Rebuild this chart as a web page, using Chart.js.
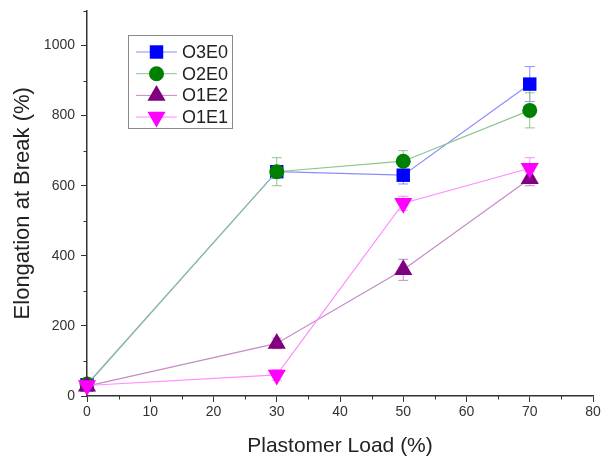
<!DOCTYPE html>
<html>
<head>
<meta charset="utf-8">
<script src="https://cdn.jsdelivr.net/npm/chart.js@4"></script>
<style>
  body { margin: 0; background: #fff; }
  canvas { display: block; }
</style>
</head>
<body>
<canvas id="myChart" width="612" height="463"></canvas>
<script>
// plastomer load on the x axis (%)
const loads = [0, 30, 50, 70];

// elongation at break (%) per blend
const o3e0 = [32, 640, 630, 890];
const o2e0 = [34, 640, 670, 815];
const o1e2 = [28, 150, 360, 620];
const o1e1 = [30, 60, 550, 650];

// standard deviations
const o3e0Err = [5, 10, 25, 50];
const o2e0Err = [5, 40, 30, 50];
const o1e2Err = [5, 15, 30, 20];
const o1e1Err = [5, 15, 20, 30];

const xTicks = [0, 10, 20, 30, 40, 50, 60, 70, 80];
const yTicks = [0, 200, 400, 600, 800, 1000];
const xMinor = [5, 15, 25, 35, 45, 55, 65, 75];
const yMinor = [100, 300, 500, 700, 900, 1100];

const toPoints = (vals) => vals.map((v, i) => ({ x: loads[i], y: v }));

const series = [
  { label: "O3E0", data: o3e0, err: o3e0Err, color: "#0000ff", line: "#8c8cff", style: "rect", radius: 9.5, rotation: 0 },
  { label: "O2E0", data: o2e0, err: o2e0Err, color: "#008000", line: "#8cc68c", style: "circle", radius: 7.5, rotation: 0 },
  { label: "O1E2", data: o1e2, err: o1e2Err, color: "#800080", line: "#c48cc4", style: "triangle", radius: 10.5, rotation: 0 },
  { label: "O1E1", data: o1e1, err: o1e1Err, color: "#ff00ff", line: "#ff8cff", style: "triangle", radius: 10.5, rotation: 180 },
];

// vertical error bars with caps, drawn under the markers
const errorBars = {
  id: "errorBars",
  beforeDatasetsDraw(chart) {
    const { ctx, scales: { x, y } } = chart;
    ctx.save();
    ctx.lineWidth = 1;
    series.forEach((s) => {
      ctx.strokeStyle = s.line;
      s.data.forEach((v, i) => {
        const px = x.getPixelForValue(loads[i]);
        const top = y.getPixelForValue(v + s.err[i]);
        const bot = y.getPixelForValue(v - s.err[i]);
        ctx.beginPath();
        ctx.moveTo(px, top);
        ctx.lineTo(px, bot);
        ctx.moveTo(px - 5, top);
        ctx.lineTo(px + 5, top);
        ctx.moveTo(px - 5, bot);
        ctx.lineTo(px + 5, bot);
        ctx.stroke();
      });
    });
    ctx.restore();
  },
};

// minor tick marks and the boxed legend
const extras = {
  id: "extras",
  afterDraw(chart) {
    const { ctx, scales: { x, y }, chartArea } = chart;
    ctx.save();
    ctx.strokeStyle = "#333";
    ctx.lineWidth = 1;
    ctx.beginPath();
    xMinor.forEach((v) => {
      const px = Math.round(x.getPixelForValue(v)) + 0.5;
      ctx.moveTo(px, chartArea.bottom);
      ctx.lineTo(px, chartArea.bottom + 3.5);
    });
    yMinor.forEach((v) => {
      const py = Math.round(y.getPixelForValue(v)) + 0.5;
      ctx.moveTo(chartArea.left, py);
      ctx.lineTo(chartArea.left - 3.5, py);
    });
    ctx.stroke();

    // legend box
    ctx.fillStyle = "#fff";
    ctx.fillRect(128, 35, 104, 93);
    ctx.strokeStyle = "#8a8a8a";
    ctx.strokeRect(128.5, 35.5, 104, 93);
    ctx.font = "18px 'Liberation Sans', Arial, sans-serif";
    ctx.textBaseline = "middle";
    series.forEach((s, i) => {
      const ly = 52 + i * 21.7;
      ctx.strokeStyle = s.line;
      ctx.beginPath();
      ctx.moveTo(136, ly);
      ctx.lineTo(177, ly);
      ctx.stroke();
      ctx.fillStyle = s.color;
      ctx.strokeStyle = s.color;
      Chart.helpers.drawPoint(ctx, { pointStyle: s.style, radius: s.radius, rotation: s.rotation, borderWidth: 0 }, 156.5, ly);
      ctx.fillStyle = "#222";
      ctx.fillText(s.label, 182, ly + 1);
    });
    ctx.restore();
  },
};

const font = "'Liberation Sans', Arial, sans-serif";

const config = {
  type: "line",
  data: {
    datasets: series.map((s, i) => ({
      label: s.label,
      data: toPoints(s.data),
      order: -i,
      borderColor: s.line,
      borderWidth: 1.2,
      backgroundColor: s.color,
      pointBackgroundColor: s.color,
      pointBorderColor: s.color,
      pointBorderWidth: 0,
      pointStyle: s.style,
      pointRadius: s.radius,
      pointRotation: s.rotation,
      pointHoverRadius: s.radius,
      tension: 0,
      clip: false,
    })),
  },
  options: {
    responsive: false,
    animation: false,
    layout: { padding: { left: 0, top: 4, right: 19, bottom: 0 } },
    plugins: {
      legend: { display: false },
      tooltip: { enabled: false },
    },
    scales: {
      x: {
        type: "linear",
        min: 0,
        max: 80,
        afterBuildTicks: (scale) => { scale.ticks = xTicks.map((v) => ({ value: v })); },
        afterFit: (scale) => { scale.height = 67; scale.paddingLeft = 0; scale.paddingRight = 0; },
        border: { display: true, color: "#333", width: 1.5 },
        grid: { display: true, drawOnChartArea: false, drawTicks: true, tickLength: 6, color: "#333" },
        ticks: {
          padding: 2,
          color: "#333",
          maxRotation: 0,
          callback: (v) => String(v),
          font: { family: font, size: 14 },
        },
        title: {
          display: true,
          text: "Plastomer Load (%)",
          color: "#222",
          font: { family: font, size: 21 },
          padding: { top: 0, bottom: 4 },
        },
      },
      y: {
        type: "linear",
        min: 0,
        max: 1100,
        afterBuildTicks: (scale) => { scale.ticks = yTicks.map((v) => ({ value: v })); },
        afterFit: (scale) => { scale.width = 87; scale.paddingTop = 0; scale.paddingBottom = 0; },
        border: { display: true, color: "#333", width: 1.5 },
        grid: { display: true, drawOnChartArea: false, drawTicks: true, tickLength: 6, color: "#333" },
        ticks: {
          padding: 6,
          color: "#333",
          callback: (v) => String(v),
          font: { family: font, size: 14 },
        },
        title: {
          display: true,
          text: "Elongation at Break (%)",
          color: "#222",
          font: { family: font, size: 22 },
          padding: { top: 10, bottom: 0 },
        },
      },
    },
  },
  plugins: [errorBars, extras],
};

new Chart(document.getElementById("myChart"), config);
</script>
</body>
</html>
